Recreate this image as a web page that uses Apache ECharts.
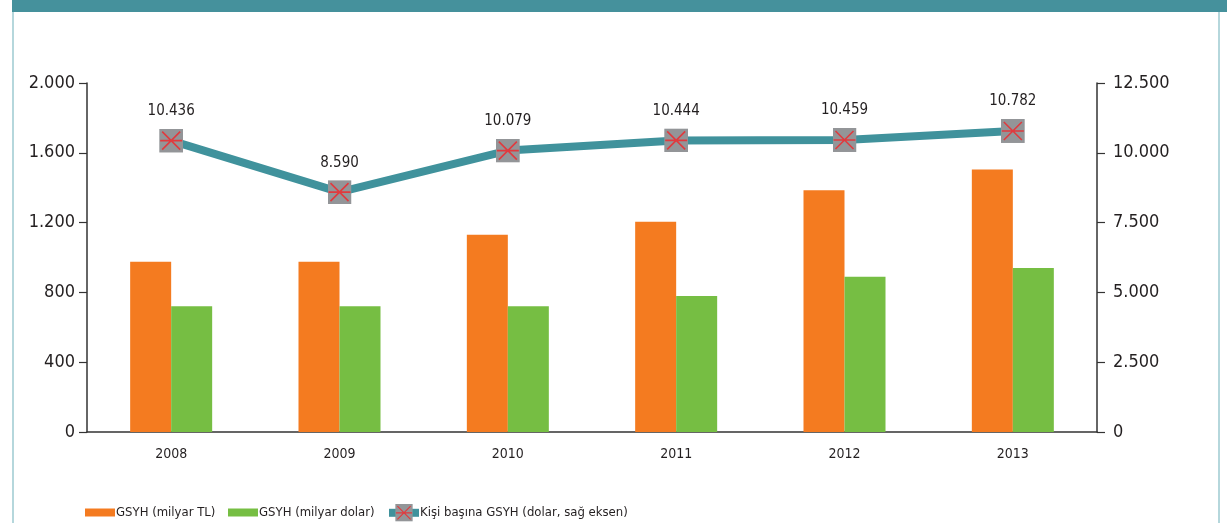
<!DOCTYPE html>
<html>
<head>
    <meta charset="utf-8">
    <title>GSYH</title>
    <script src="https://cdn.jsdelivr.net/npm/echarts@6/dist/echarts.min.js"></script>
    <style>
        html, body { margin: 0; padding: 0; background: #fff; }
        #chart { width: 1227px; height: 523px; }
    </style>
</head>
<body>
<div id="chart"></div>
<script>
    // veriler
    var years = ['2008', '2009', '2010', '2011', '2012', '2013'];
    var gsyhTL = [975, 975, 1130, 1205, 1385, 1505];
    var gsyhDolar = [720, 720, 720, 780, 890, 940];
    var kisiBasina = [10436, 8590, 10079, 10444, 10459, 10782];
    var leftTicks = [0, 400, 800, 1200, 1600, 2000];
    var rightTicks = [0, 2500, 5000, 7500, 10000, 12500];
    var seriesNames = ['GSYH (milyar TL)', 'GSYH (milyar dolar)', 'Kişi başına GSYH (dolar, sağ eksen)'];

    var font = '"DejaVu Sans Condensed", "Liberation Sans Narrow", sans-serif';
    var textColor = '#231f20';

    // nokta ile binlik ayırıcı
    function fmt(v) {
        return String(v).replace(/\B(?=(\d{3})+(?!\d))/g, '.');
    }

    var markerSvg = "<svg xmlns='http://www.w3.org/2000/svg' width='24' height='24'>" +
        "<rect width='24' height='24' fill='#939598'/>" +
        "<path d='M3 3L21 21M21 3L3 21M1 12H23' stroke='#e03a3e' stroke-width='1.6'/></svg>";
    var markerImg = 'image://data:image/svg+xml;charset=utf-8,' + encodeURIComponent(markerSvg);

    var legendText = { fontFamily: font, fontSize: 13, color: textColor, padding: [0, 0, 0, -4] };

    var chart = echarts.init(document.getElementById('chart'));
    var option = {
        animation: false,
        textStyle: { fontFamily: font, color: textColor },
        graphic: [
            { type: 'rect', shape: { x: 12, y: 0, width: 1215, height: 12 }, style: { fill: '#45919c' } },
            { type: 'rect', shape: { x: 12, y: 12, width: 2, height: 511 }, style: { fill: '#b5d7dc' } },
            { type: 'rect', shape: { x: 1218, y: 12, width: 2, height: 511 }, style: { fill: '#b5d7dc' } }
        ],
        grid: { left: 87, right: 130, top: 83, bottom: 91 },
        legend: [
            {
                left: 80, top: 501, itemWidth: 30, itemHeight: 8,
                icon: 'rect', textStyle: legendText, data: [seriesNames[0]]
            },
            {
                left: 223, top: 501, itemWidth: 30, itemHeight: 8,
                icon: 'rect', textStyle: legendText, data: [seriesNames[1]]
            },
            {
                left: 380, top: 499, itemWidth: 30, itemHeight: 22,
                lineStyle: { width: 8 },
                textStyle: legendText, data: [seriesNames[2]]
            }
        ],
        xAxis: {
            type: 'category',
            data: years,
            axisLine: { lineStyle: { color: '#333', width: 1.5 } },
            axisTick: { length: 7, lineStyle: { color: '#333', width: 1.2 } },
            axisLabel: { fontFamily: font, fontSize: 14, color: textColor, margin: 15 }
        },
        yAxis: [
            {
                type: 'value',
                min: 0, max: 2000, interval: 400,
                splitLine: { show: false },
                axisLine: { show: true, lineStyle: { color: '#333', width: 1.5 } },
                axisTick: { show: true, length: 8, lineStyle: { color: '#333', width: 1.2 } },
                axisLabel: {
                    fontFamily: font, fontSize: 18, color: textColor, margin: 12,
                    formatter: function (v) { return leftTicks.indexOf(v) >= 0 ? fmt(v) : ''; }
                }
            },
            {
                type: 'value',
                min: 0, max: 12500, interval: 2500,
                position: 'right',
                splitLine: { show: false },
                axisLine: { show: true, lineStyle: { color: '#333', width: 1.5 } },
                axisTick: { show: true, length: 8, lineStyle: { color: '#333', width: 1.2 } },
                axisLabel: {
                    fontFamily: font, fontSize: 18, color: textColor, margin: 16,
                    formatter: function (v) { return rightTicks.indexOf(v) >= 0 ? fmt(v) : ''; }
                }
            }
        ],
        series: [
            {
                name: seriesNames[0],
                type: 'bar',
                data: gsyhTL,
                barWidth: 41,
                barGap: '0%',
                itemStyle: { color: '#f47b20' }
            },
            {
                name: seriesNames[1],
                type: 'bar',
                data: gsyhDolar,
                barWidth: 41,
                itemStyle: { color: '#76be43' }
            },
            {
                name: seriesNames[2],
                type: 'line',
                yAxisIndex: 1,
                data: kisiBasina,
                symbol: markerImg,
                symbolSize: 24,
                lineStyle: { color: '#40929c', width: 8 },
                itemStyle: { color: '#40929c' },
                label: {
                    show: true,
                    position: 'top',
                    distance: 10,
                    fontFamily: font,
                    fontSize: 15,
                    color: textColor,
                    formatter: function (p) { return fmt(p.value); }
                },
                z: 5
            }
        ]
    };
    chart.setOption(option);
</script>
</body>
</html>
